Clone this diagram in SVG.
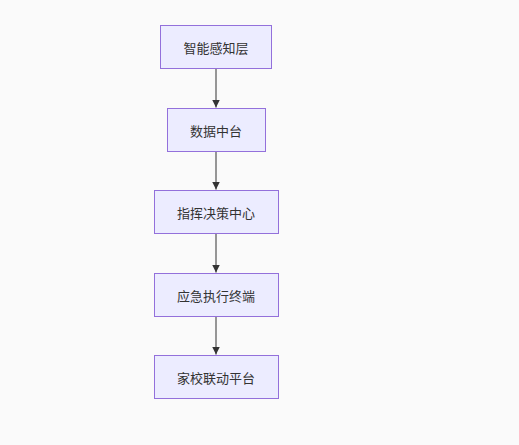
<svg xmlns="http://www.w3.org/2000/svg" width="519" height="445" viewBox="0 0 519 445">
<style>
.node rect{fill:#ececff;stroke:#9370db;stroke-width:1}
.node text{font-family:"Noto Sans CJK SC","Liberation Sans",sans-serif;font-size:13px;fill:#333;text-anchor:middle;dominant-baseline:central}
.edge{stroke:#333;stroke-width:1;fill:none;marker-end:url(#arr)}
</style>
<defs>
<marker id="arr" viewBox="0 0 10 10" refX="10" refY="5" markerWidth="8" markerHeight="8" markerUnits="userSpaceOnUse" orient="auto">
<path d="M0,0L10,5L0,10z" fill="#333"/>
</marker>
</defs>
<rect width="519" height="445" fill="#fafafa"/>
<g id="edges">
<path class="edge" d="M216,68.5V107.5"/>
<path class="edge" d="M216,151.5V189.5"/>
<path class="edge" d="M216,233.5V272.5"/>
<path class="edge" d="M216,316.5V354.5"/>
</g>
<g id="n1" class="node"><rect x="160.5" y="25.5" width="111" height="43"/><text x="216" y="47">智能感知层</text></g>
<g id="n2" class="node"><rect x="167.5" y="108.5" width="98" height="43"/><text x="216" y="130">数据中台</text></g>
<g id="n3" class="node"><rect x="154.5" y="190.5" width="124" height="43"/><text x="216" y="212">指挥决策中心</text></g>
<g id="n4" class="node"><rect x="154.5" y="273.5" width="124" height="43"/><text x="216" y="295">应急执行终端</text></g>
<g id="n5" class="node"><rect x="154.5" y="355.5" width="124" height="43"/><text x="216" y="377">家校联动平台</text></g>
</svg>
